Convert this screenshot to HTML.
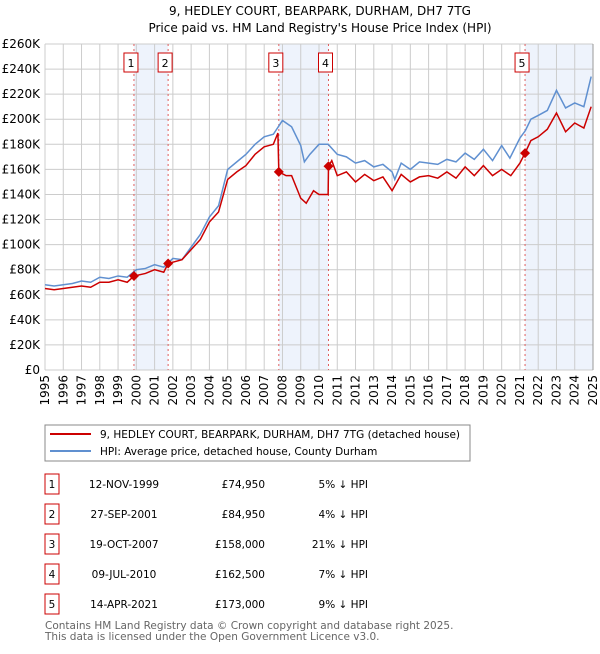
<!DOCTYPE html>
<html><head><meta charset="utf-8"><style>
body{margin:0;background:#fff;font-family:"DejaVu Sans","Liberation Sans",sans-serif;}
svg text{font-family:"DejaVu Sans","Liberation Sans",sans-serif;}
</style></head><body>
<svg id="c" width="600" height="650" xmlns="http://www.w3.org/2000/svg">
<text x="320" y="15" text-anchor="middle" font-size="12">9, HEDLEY COURT, BEARPARK, DURHAM, DH7 7TG</text>
<text x="320" y="32" text-anchor="middle" font-size="12">Price paid vs. HM Land Registry's House Price Index (HPI)</text>
<g id="plot"></g>
<rect x="45" y="425" width="425" height="36" fill="#fff" stroke="#888"/>
<line x1="50" y1="434" x2="91" y2="434" stroke="#cc0000" stroke-width="2"/>
<text x="100" y="438" font-size="10.5">9, HEDLEY COURT, BEARPARK, DURHAM, DH7 7TG (detached house)</text>
<line x1="50" y1="451" x2="91" y2="451" stroke="#6090d0" stroke-width="2"/>
<text x="100" y="455" font-size="10.5">HPI: Average price, detached house, County Durham</text>
<g id="table" font-size="10.5"></g>
<text x="45" y="629" font-size="10.5" fill="#666">Contains HM Land Registry data © Crown copyright and database right 2025.</text>
<text x="45" y="640" font-size="10.5" fill="#666">This data is licensed under the Open Government Licence v3.0.</text>
</svg>
<script>
const hpiYears=[1995,1995.5,1996,1996.5,1997,1997.5,1998,1998.5,1999,1999.5,2000,2000.5,2001,2001.5,2002,2002.5,2003,2003.5,2004,2004.5,2005,2005.5,2006,2006.5,2007,2007.5,2008,2008.5,2009,2009.2,2009.5,2010,2010.5,2011,2011.5,2012,2012.5,2013,2013.5,2014,2014.15,2014.5,2015,2015.5,2016,2016.5,2017,2017.5,2018,2018.5,2019,2019.5,2020,2020.45,2021,2021.3,2021.6,2022,2022.5,2023,2023.5,2024,2024.5,2024.9];
const hpiValues=[68,67,68,69,71,70,74,73,75,74,80,81,84,82,89,88,98,108,122,131,160,166,172,180,186,188,199,194,179,166,172,180,180,172,170,165,167,162,164,158,152,165,160,166,165,164,168,166,173,168,176,167,179,169,185,191,200,203,207,223,209,213,210,234];
const ppYears=[1995,1995.5,1996,1996.5,1997,1997.5,1998,1998.5,1999,1999.5,1999.87,2000.5,2001,2001.5,2001.74,2002,2002.5,2003,2003.5,2004,2004.5,2005,2005.5,2006,2006.5,2007,2007.5,2007.75,2007.8,2008.2,2008.5,2009,2009.3,2009.7,2010,2010.5,2010.52,2010.7,2011,2011.5,2012,2012.5,2013,2013.5,2014,2014.5,2015,2015.5,2016,2016.5,2017,2017.5,2018,2018.5,2019,2019.5,2020,2020.5,2021,2021.28,2021.6,2022,2022.5,2023,2023.5,2024,2024.5,2024.9];
const ppValues=[65,64,65,66,67,66,70,70,72,70,74.95,77,80,78,84.95,86,88,96,104,118,126,152,158,163,172,178,180,189,158,155,155,137,133,143,140,140,162.5,167,155,158,150,156,151,154,143,156,150,154,155,153,158,153,162,155,163,155,160,155,165,173,183,186,192,205,190,197,193,210];
const saleYears=[1999.87,2001.74,2007.8,2010.52,2021.28];
const saleValues=[74.95,84.95,158,162.5,173];
const saleLabels=["1","2","3","4","5"];
const saleDates=["12-NOV-1999","27-SEP-2001","19-OCT-2007","09-JUL-2010","14-APR-2021"];
const salePrices=["£74,950","£84,950","£158,000","£162,500","£173,000"];
const saleDiffs=["5% ↓ HPI","4% ↓ HPI","21% ↓ HPI","7% ↓ HPI","9% ↓ HPI"];
const yTicks=[0,20,40,60,80,100,120,140,160,180,200,220,240,260];
const xTicks=[1995,1996,1997,1998,1999,2000,2001,2002,2003,2004,2005,2006,2007,2008,2009,2010,2011,2012,2013,2014,2015,2016,2017,2018,2019,2020,2021,2022,2023,2024,2025];
const X0=45,X1=593,Y0=370,Y1=44;
const xs=y=>X0+(y-1995)/30*(X1-X0);
const ys=v=>Y0-v/260*(Y0-Y1);
const NS="http://www.w3.org/2000/svg";
const g=document.getElementById('plot');
function mk(tag,at,parent){const e=document.createElementNS(NS,tag);for(const k in at)e.setAttribute(k,at[k]);(parent||g).appendChild(e);return e;}
let e;
e=mk('rect',{x:X0,y:Y1,width:X1-X0,height:Y0-Y1,fill:'#fff'});


[[0,1],[2,3]].forEach(p=>{e=mk('rect',{x:xs(saleYears[p[0]]),y:Y1,width:xs(saleYears[p[1]])-xs(saleYears[p[0]]),height:Y0-Y1,fill:'#eef3fc'});

});
e=mk('rect',{x:xs(saleYears[4]),y:Y1,width:X1-xs(saleYears[4]),height:Y0-Y1,fill:'#eef3fc'});


yTicks.forEach(t=>{e=mk('line',{x1:X0,x2:X1,y1:ys(t),y2:ys(t),stroke:'#ccc'});


e=mk('text',{x:X0-5,y:ys(t)+4,'text-anchor':'end','font-size':'12'});e.textContent=t===0?'£0':'£'+t+'K';

});
xTicks.forEach(t=>{e=mk('line',{x1:xs(t),x2:xs(t),y1:Y1,y2:Y0,stroke:'#ccc'});


e=mk('text',{x:0,y:0,'text-anchor':'end','font-size':'12',transform:`translate(${xs(t)+4},${Y0+5}) rotate(-90)`});e.textContent=t;

});
e=mk('line',{x1:X1,x2:X1,y1:Y1,y2:Y0,stroke:'#999'});


saleYears.forEach((s,i)=>{e=mk('line',{x1:xs(s),x2:xs(s),y1:Y1,y2:Y0,stroke:'#e06060','stroke-dasharray':'2,3'});

});
e=mk('polyline',{points:hpiYears.map((y,i)=>xs(y)+','+ys(hpiValues[i])).join(' '),fill:'none',stroke:'#6090d0','stroke-width':1.5});


e=mk('polyline',{points:ppYears.map((y,i)=>xs(y)+','+ys(ppValues[i])).join(' '),fill:'none',stroke:'#cc0000','stroke-width':1.5});


saleYears.forEach((s,i)=>{const cx=xs(s),cy=ys(saleValues[i]);
e=mk('polygon',{points:`${cx},${cy-5} ${cx+5},${cy} ${cx},${cy+5} ${cx-5},${cy}`,fill:'#cc0000'});


e=mk('rect',{x:cx-10,y:53,width:14,height:19,fill:'#fff',stroke:'#cc0000'});


e=mk('text',{x:cx-3,y:67,'text-anchor':'middle','font-size':'11'});e.textContent=saleLabels[i];

});
const tb=document.getElementById('table');
saleLabels.forEach((l,i)=>{const y=483+i*30;
e=mk('rect',{x:45,y:y-9,width:14,height:20,fill:'#fff',stroke:'#cc0000'},tb);


e=mk('text',{x:52,y:y+5,'text-anchor':'middle'},tb);e.textContent=l;


e=mk('text',{x:124,y:y+5,'text-anchor':'middle'},tb);e.textContent=saleDates[i];


e=mk('text',{x:265,y:y+5,'text-anchor':'end'},tb);e.textContent=salePrices[i];


e=mk('text',{x:368,y:y+5,'text-anchor':'end'},tb);e.textContent=saleDiffs[i];

});
</script>
</body></html>
